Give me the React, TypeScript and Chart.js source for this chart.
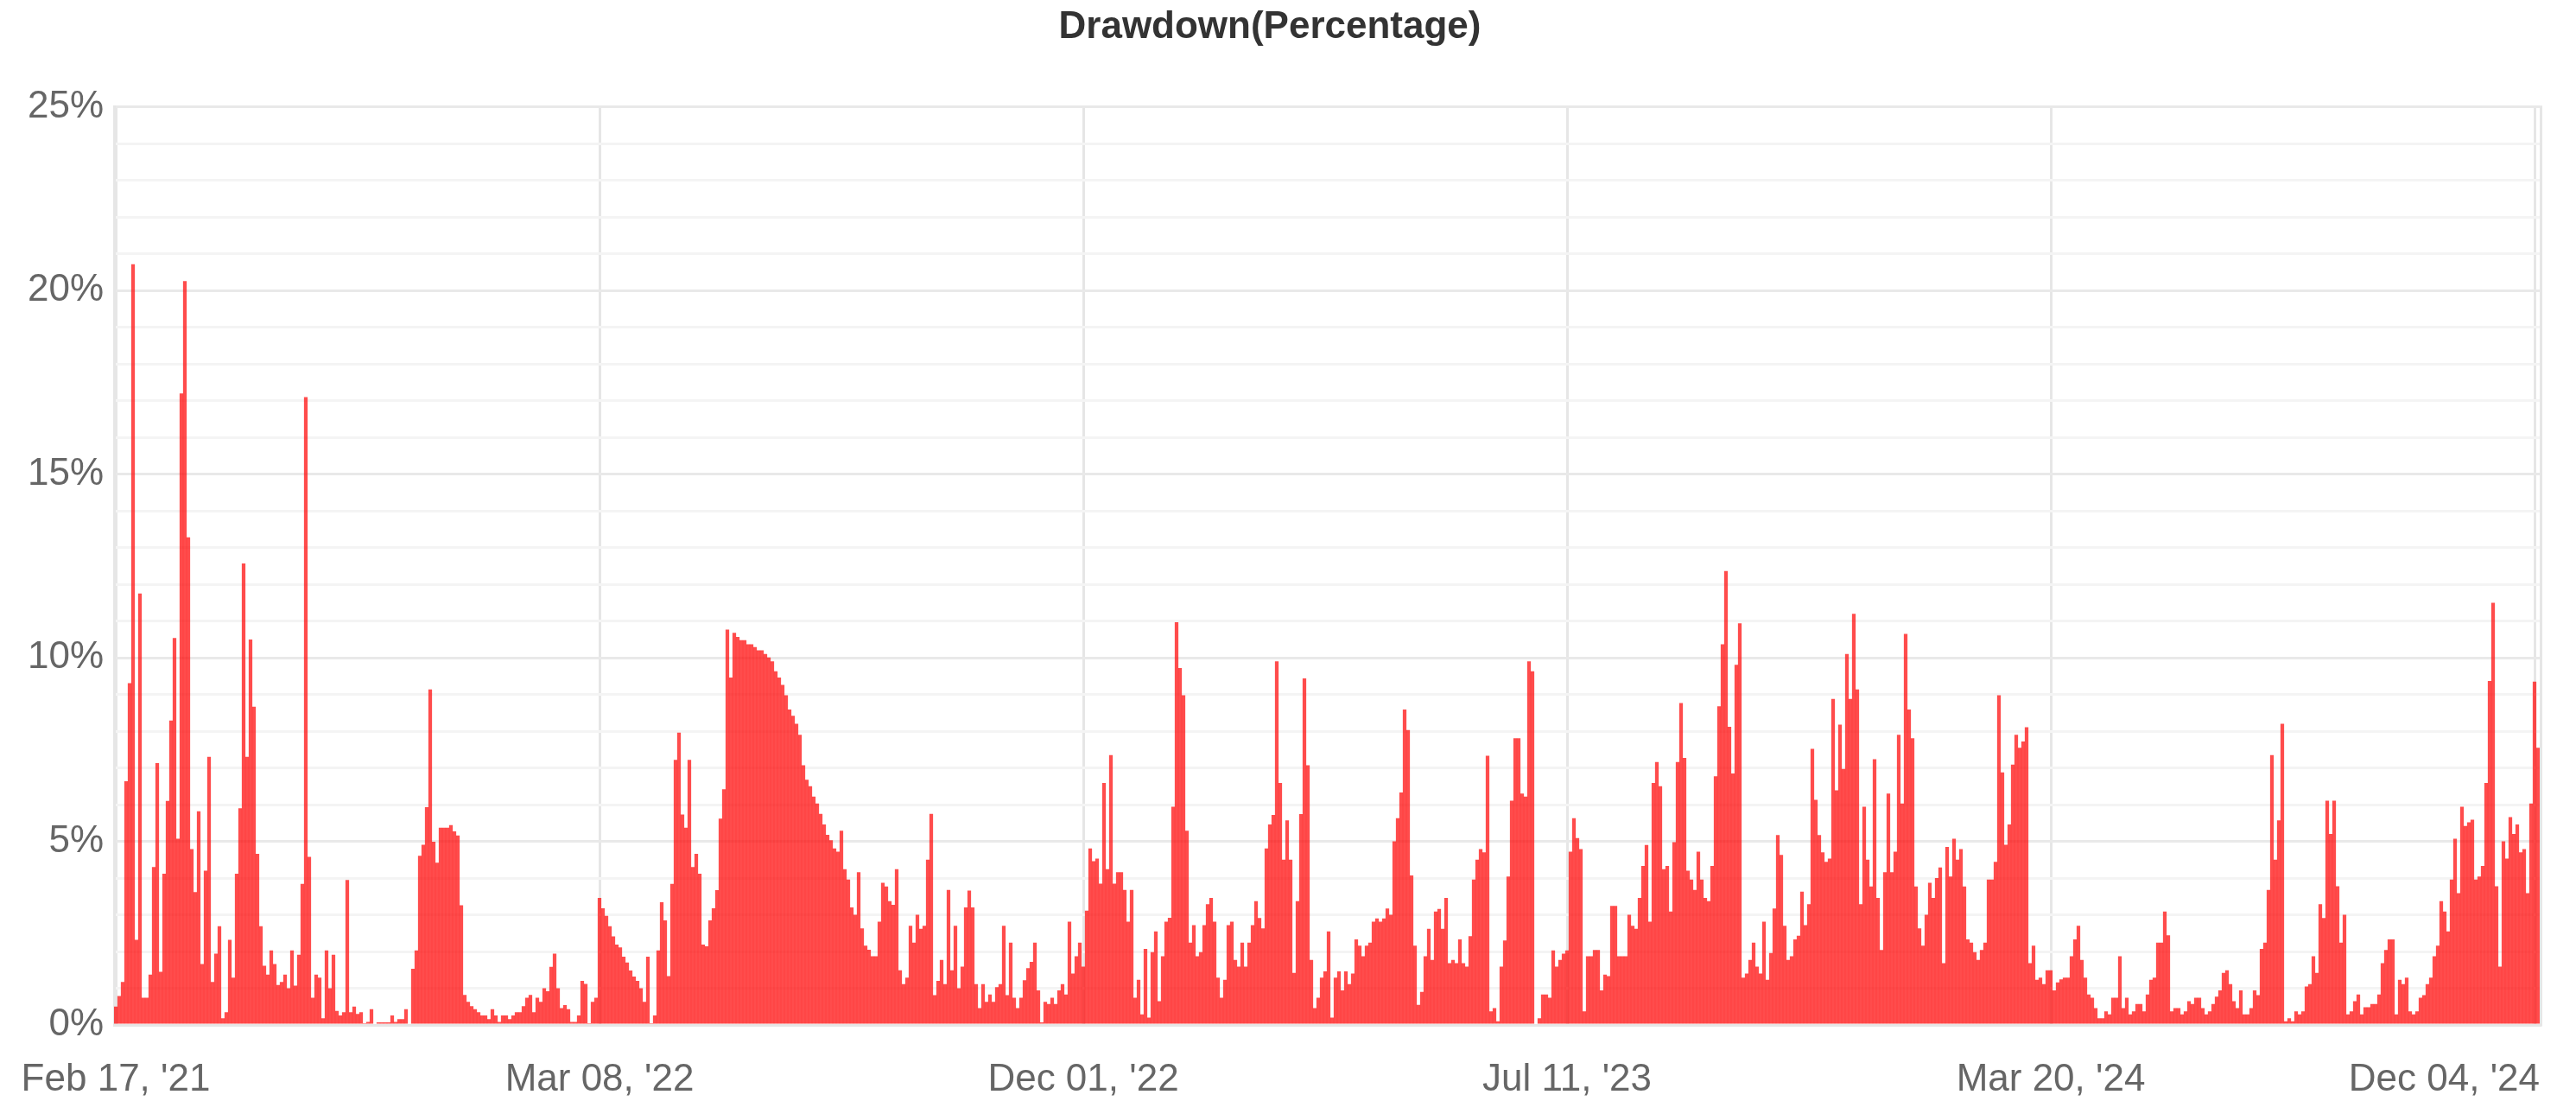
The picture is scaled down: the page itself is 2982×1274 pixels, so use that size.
import React, { useEffect, useRef } from "react";
import { Chart, registerables } from "chart.js";

Chart.register(...registerables);

// Drawdown values in percent, one bar per period
const drawdownPart1 = [
  0.5,
  0.79, 1.17, 6.64, 9.31, 20.72, 2.32, 11.75, 0.74, 0.74, 1.37,
  4.3, 7.13, 1.45, 4.12, 6.1, 8.29, 10.54, 5.07, 17.2, 20.26,
  13.28, 4.79, 3.62, 5.82, 1.66, 4.2, 7.3, 1.17, 1.94, 2.69,
  0.18, 0.35, 2.32, 1.29, 4.12, 5.9, 12.57, 7.3, 10.5, 8.67,
  4.66, 2.69, 1.61, 1.37, 2.03, 1.66, 1.09, 1.17, 1.37, 1.0,
  2.03, 1.07, 1.91, 3.84, 17.1, 4.58, 0.74, 1.37, 1.29, 0.18,
  2.03, 1.0, 1.91, 0.38, 0.26, 0.35, 3.95, 0.35, 0.5, 0.3,
  0.35, 0.05, 0.08, 0.43, 0, 0.07, 0.07, 0.07, 0.07, 0.26,
  0.08, 0.16, 0.16, 0.43, 0, 1.53, 2.03,
];
const drawdownPart2 = [
  4.61, 4.91, 5.93, 9.14, 4.99, 4.42, 5.37, 5.37, 5.37, 5.44,
  5.27, 5.16, 3.26, 0.82, 0.63, 0.51, 0.43, 0.35, 0.26, 0.26,
  0.16, 0.43, 0.26, 0.08, 0.26, 0.26, 0.16, 0.26, 0.35, 0.35,
  0.51, 0.74, 0.82, 0.35, 0.74, 0.63, 1.0, 0.92, 1.58, 1.94,
  1.0, 0.46, 0.54, 0.43, 0.08, 0.08, 0.26, 1.2, 1.12, 0.05,
  0.63, 0.74, 3.46, 3.18, 2.97, 2.69, 2.41, 2.19, 2.11, 1.86,
  1.7, 1.48, 1.32, 1.2, 1.0, 0.63, 1.86, 0.05, 0.26, 2.03,
  3.34, 2.85, 1.33, 3.84, 7.22, 7.96, 5.73, 5.37, 7.22, 4.3,
  4.66, 4.12, 2.19, 2.14, 2.85, 3.18, 3.67,
];
const drawdownPart3 = [
  5.62, 6.42, 10.77, 9.46, 10.68, 10.57, 10.48, 10.48, 10.37, 10.37,
  10.29, 10.2, 10.2, 10.1, 10.01, 9.9, 9.63, 9.46, 9.26, 8.98,
  8.59, 8.42, 8.2, 7.9, 7.07, 6.68, 6.5, 6.22, 6.03, 5.75,
  5.46, 5.18, 5.03, 4.81, 4.72, 5.29, 4.24, 3.96, 3.2, 3.0,
  4.16, 2.63, 2.16, 2.05, 1.87, 1.87, 2.81, 3.87, 3.77, 3.37,
  3.27, 4.24, 1.49, 1.11, 1.29, 2.7, 2.24, 3.0, 2.62, 2.7,
  4.5, 5.75, 0.81, 1.2, 1.77, 1.11, 3.68, 1.49, 2.7, 1.0,
  1.59, 3.2, 3.66, 3.2, 1.11, 0.46, 1.11, 0.63, 0.83, 0.63,
  1.03, 1.11, 2.7, 0.81, 2.24, 0.74, 0.46, 0.74, 1.22, 1.55,
];
const drawdownPart4 = [
  1.72, 2.24, 0.94, 0.07, 0.63, 0.57, 0.74, 0.57, 0.94, 1.11,
  0.83, 2.81, 1.4, 1.87, 2.24, 1.59, 3.11, 4.81, 4.46, 4.53,
  3.85, 6.59, 4.24, 7.35, 3.85, 4.16, 4.16, 3.68, 2.81, 3.68,
  0.74, 1.23, 0.29, 2.07, 0.2, 1.98, 2.55, 0.65, 1.87, 2.81,
  2.92, 5.94, 10.97, 9.72, 8.98, 5.29, 2.24, 2.72, 1.87, 1.98,
  2.72, 3.29, 3.46, 2.81, 1.29, 0.74, 1.23, 2.72, 2.81, 1.77,
  1.59, 2.24, 1.59, 2.24, 2.72, 3.37, 2.91, 2.63, 4.81, 5.46,
  5.72, 9.9, 6.59, 4.5, 5.57, 4.5, 1.42, 3.37, 5.74, 9.44,
  7.07, 1.77, 0.46, 0.74, 1.29, 1.46, 2.55,
];
const drawdownPart5 = [
  0.2, 1.29, 1.46, 0.94, 1.46, 1.11, 1.4, 2.33, 2.16, 1.87,
  2.16, 2.24, 2.81, 2.9, 2.81, 2.9, 3.17, 3.0, 5.0, 5.63,
  6.33, 8.59, 8.03, 4.07, 2.16, 0.55, 0.9, 1.87, 2.62, 1.77,
  3.09, 3.16, 2.62, 3.46, 1.68, 1.77, 1.68, 2.33, 1.68, 1.59,
  2.42, 3.96, 4.5, 4.79, 4.7, 7.33, 0.37, 0.46, 0.1, 1.59,
  2.3, 4.04, 6.11, 7.81, 7.81, 6.3, 6.22, 9.9, 9.63, 0,
  0.18, 0.83, 0.83, 0.74, 2.03, 1.59, 1.77, 1.94, 2.03, 4.72,
  5.63, 5.09, 4.79, 0.37, 1.87, 1.87, 2.04, 2.04, 0.94, 1.37,
  1.33, 3.24, 3.24, 1.87, 1.87, 1.87,
];
const drawdownPart6 = [
  3.0, 2.7, 2.62, 3.46, 4.33, 4.9, 2.81, 6.59, 7.16, 6.5,
  4.24, 4.33, 3.09, 4.98, 7.16, 8.77, 7.27, 4.2, 3.96, 3.68,
  4.72, 3.96, 3.46, 3.37, 4.33, 6.77, 8.68, 10.37, 12.36, 8.12,
  6.85, 9.81, 10.94, 1.29, 1.4, 1.77, 2.24, 1.59, 1.4, 2.81,
  1.23, 1.96, 3.17, 5.17, 4.63, 2.7, 1.77, 1.87, 2.33, 2.43,
  3.63, 2.72, 3.29, 7.52, 6.13, 5.17, 4.7, 4.44, 4.53, 8.88,
  6.39, 8.18, 6.97, 10.1, 8.88, 11.2, 9.14, 3.29, 5.94, 4.5,
  3.77, 7.24, 3.46, 2.04, 4.16, 6.3, 4.16, 4.72, 7.9, 6.03,
  10.65, 8.59, 7.81, 3.77, 2.63, 2.16, 3.0, 3.87, 3.46, 4.0,
];
const drawdownPart7 = [
  4.29, 1.68, 4.85, 4.04, 5.07, 4.5, 4.79, 3.77, 2.33, 2.24,
  1.98, 1.77, 2.04, 2.24, 3.96, 3.96, 4.44, 8.98, 6.88, 4.91,
  5.46, 7.09, 7.9, 7.55, 7.72, 8.11, 1.68, 2.16, 1.23, 1.29,
  1.11, 1.49, 1.49, 0.94, 1.16, 1.24, 1.29, 1.29, 1.87, 2.33,
  2.7, 1.77, 1.29, 0.83, 0.74, 0.46, 0.18, 0.18, 0.37, 0.29,
  0.74, 0.74, 1.87, 0.46, 0.74, 0.29, 0.37, 0.57, 0.57, 0.37,
  0.83, 1.23, 1.29, 2.24, 2.24, 3.09, 2.44, 0.37, 0.46, 0.46,
  0.29, 0.37, 0.65, 0.57, 0.74, 0.74, 0.46, 0.29, 0.37, 0.57,
  0.77, 0.94, 1.42, 1.49, 1.11, 0.65, 0.46,
];
const drawdownPart8 = [
  0.94, 0.29, 0.29, 0.46, 0.94, 0.81, 2.07, 2.24, 3.68, 7.35,
  4.5, 5.57, 8.2, 0.1, 0.18, 0.1, 0.37, 0.29, 0.37, 1.05,
  1.11, 1.87, 1.42, 3.29, 2.91, 6.11, 5.2, 6.11, 3.78, 2.24,
  3.0, 0.29, 0.37, 0.65, 0.83, 0.29, 0.48, 0.48, 0.57, 0.57,
  0.83, 1.68, 2.04, 2.33, 2.33, 0.29, 1.23, 1.11, 1.29, 0.37,
  0.29, 0.37, 0.74, 0.81, 1.11, 1.29, 1.87, 2.16, 3.37, 3.09,
  2.55, 3.96, 5.07, 3.59, 5.94, 5.42, 5.52, 5.59, 3.96, 4.04,
  4.33, 6.59, 9.37, 11.5, 3.78, 1.59, 5.0, 4.53, 5.66, 5.2,
  5.46, 4.7, 4.79, 3.59, 6.03, 9.35, 7.55,
];

const tickLabels = ["Feb 17, '21", "Mar 08, '22", "Dec 01, '22", "Jul 11, '23", "Mar 20, '24", "Dec 04, '24"];
const tickStep = 140;
const yTickValues = [0, 5, 10, 15, 20, 25];

const drawdown = [
  ...drawdownPart1, ...drawdownPart2, ...drawdownPart3, ...drawdownPart4,
  ...drawdownPart5, ...drawdownPart6, ...drawdownPart7, ...drawdownPart8,
];
const categories = drawdown.map((_, i) => String(i));

const FONT = '"Liberation Sans", Arial, Helvetica, sans-serif';

const frameAndLabels = {
  id: "frameAndLabels",
  beforeDatasetsDraw(chart: any) {
    const { ctx, chartArea } = chart;
    ctx.save();
    ctx.strokeStyle = "#e6e6e6";
    ctx.lineWidth = 3;
    ctx.beginPath();
    ctx.moveTo(chartArea.right + 1.5, chartArea.top - 1.5);
    ctx.lineTo(chartArea.right + 1.5, chartArea.bottom + 1.5);
    ctx.stroke();
    ctx.restore();
  },
  afterDraw(chart: any) {
    const { ctx, chartArea, scales } = chart;
    const xs = scales.x;
    ctx.save();
    ctx.font = `44px ${FONT}`;
    ctx.fillStyle = "#666666";
    ctx.textAlign = "left";
    ctx.textBaseline = "alphabetic";
    tickLabels.forEach((label, i) => {
      const px = xs.getPixelForValue(i * tickStep);
      const w = ctx.measureText(label).width;
      let left = px - w / 2;
      if (left + w > chartArea.right) left = chartArea.right - w;
      if (left < 0) left = 0;
      ctx.fillText(label, left, chartArea.bottom + 76);
    });
    ctx.restore();
  },
};

export default function App() {
  const canvasRef = useRef<HTMLCanvasElement | null>(null);

  useEffect(() => {
    if (!canvasRef.current) return;
    const chart = new Chart(canvasRef.current, {
      type: "bar",
      data: {
        labels: categories,
        datasets: [
          {
            label: "Drawdown",
            data: drawdown,
            backgroundColor: "rgba(255, 0, 0, 0.7)",
            borderWidth: 0,
            categoryPercentage: 1.0,
            barPercentage: 1.06,
          },
        ],
      },
      options: {
        responsive: false,
        animation: false,
        layout: { padding: { left: 0, right: 42, top: 0, bottom: 0 } },
        plugins: {
          legend: { display: false },
          tooltip: { enabled: false },
          title: {
            display: true,
            text: "Drawdown(Percentage)",
            color: "#333333",
            font: { family: FONT, size: 44, weight: "bold" },
            padding: { top: 5, bottom: 66 },
          },
        },
        scales: {
          x: {
            type: "category",
            offset: true,
            ticks: { display: false, autoSkip: false },
            grid: {
              offset: false,
              drawTicks: false,
              lineWidth: 3,
              color: (ctx: any) => (ctx.index % tickStep === 0 ? "#e6e6e6" : "rgba(0,0,0,0)"),
            },
            border: { display: true, color: "#e6e6e6", width: 3 },
            afterFit: (scale: any) => {
              scale.height = 88;
            },
          },
          y: {
            type: "linear",
            min: 0,
            max: 25,
            ticks: {
              stepSize: 1,
              autoSkip: false,
              maxTicksLimit: 40,
              padding: 12,
              color: "#666666",
              font: { family: FONT, size: 44 },
              callback: (v: any) => (yTickValues.includes(Number(v)) ? `${v}%` : ""),
            },
            grid: {
              drawTicks: false,
              lineWidth: 3,
              color: (ctx: any) =>
                ctx.tick && yTickValues.includes(ctx.tick.value) ? "#e9e9e9" : "#f4f4f4",
            },
            border: { display: true, color: "#e6e6e6", width: 3 },
            afterFit: (scale: any) => {
              scale.width = 132;
            },
          },
        },
      },
      plugins: [frameAndLabels],
    });
    return () => chart.destroy();
  }, []);

  return (
    <div style={{ position: "absolute", left: 0, top: 0, width: 2982, height: 1274, background: "#fff" }}>
      <canvas ref={canvasRef} width={2982} height={1274} style={{ display: "block" }} />
    </div>
  );
}
